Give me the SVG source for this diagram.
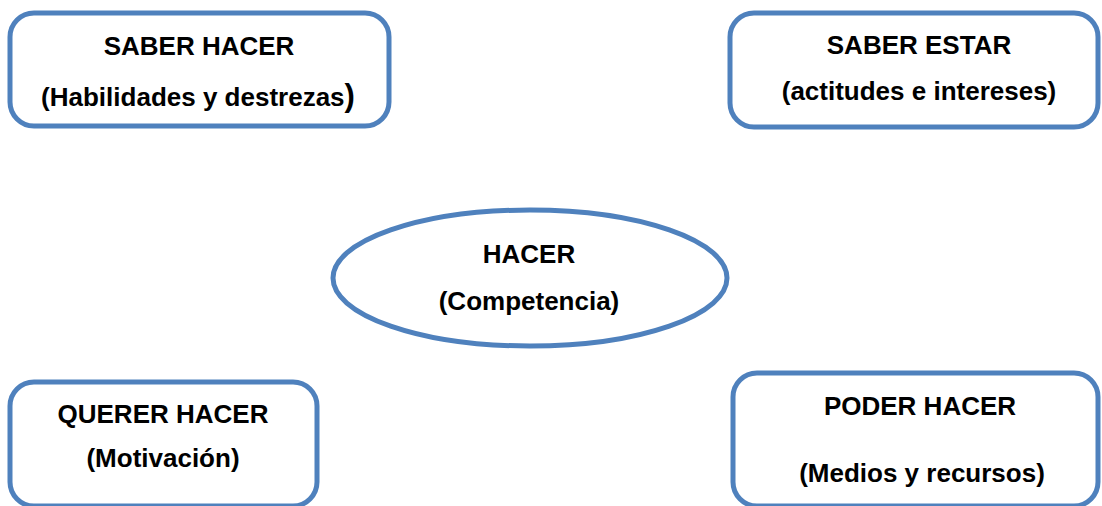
<svg xmlns="http://www.w3.org/2000/svg" width="1102" height="506" viewBox="0 0 1102 506">
<style>
.box{fill:#fff;stroke:#4F81BD;stroke-width:5}
.t{font-family:"Liberation Sans",Arial,sans-serif;font-weight:bold;font-size:26px;fill:#000;text-anchor:middle}
</style>
<rect width="1102" height="506" fill="#fff"/>
<g id="connectors"></g>
<g id="saber-hacer">
<rect class="box" x="10" y="13" width="379" height="113" rx="24" ry="24"/>
<text class="t" x="199" y="55">SABER HACER</text>
<text class="t" x="198" y="106">(Habilidades y destrezas<tspan font-size="31">)</tspan></text>
</g>
<g id="saber-estar">
<rect class="box" x="730" y="13" width="368" height="114" rx="24" ry="24"/>
<text class="t" x="919" y="54">SABER ESTAR</text>
<text class="t" x="919" y="100">(actitudes e intereses)</text>
</g>
<g id="hacer">
<ellipse class="box" cx="530" cy="278" rx="197" ry="68"/>
<text class="t" x="529" y="263">HACER</text>
<text class="t" x="529" y="310">(Competencia)</text>
</g>
<g id="querer-hacer">
<rect class="box" x="10" y="382" width="307" height="124" rx="24" ry="24"/>
<text class="t" x="163" y="423">QUERER HACER</text>
<text class="t" x="163" y="467">(Motivación)</text>
</g>
<g id="poder-hacer">
<rect class="box" x="733" y="373" width="365" height="133" rx="24" ry="24"/>
<text class="t" x="920" y="415">PODER HACER</text>
<text class="t" x="922" y="482">(Medios y recursos)</text>
</g>
</svg>
